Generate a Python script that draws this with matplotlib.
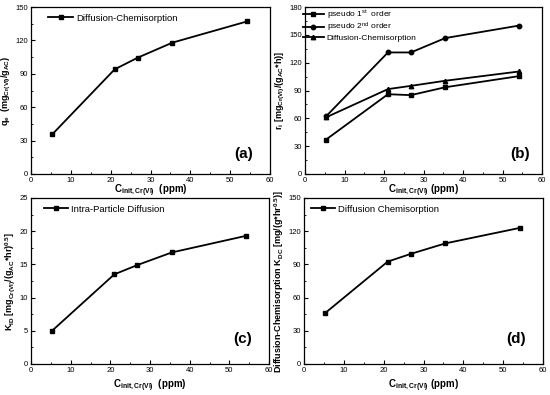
import matplotlib.pyplot as plt
from matplotlib.ticker import MultipleLocator

plt.rcParams['font.family'] = ['Liberation Sans', 'DejaVu Sans']
plt.rcParams['mathtext.default'] = 'regular'

# initial Cr(VI) concentration (ppm)
c_init = [5.3, 21.0, 26.8, 35.5, 54.2]

# (a) equilibrium uptake
qe_dc = [35.5, 94, 104.5, 118, 137]

# (b) initial rates
ri_pfo = [37, 86, 85, 93.5, 105.5]
ri_pso = [62, 131, 131, 146.5, 160]
ri_dc = [61, 91.5, 95, 100.5, 110.5]

# (c) intra-particle diffusion constant
kid = [5, 13.5, 14.9, 16.8, 19.3]

# (d) diffusion-chemisorption constant
kdc = [46, 92.5, 99.5, 109, 123]

fig = plt.figure(figsize=(5.5, 3.95), dpi=100)

ax_a = fig.add_axes([31/550, 1-174/395, 239/550, 167/395])
ax_b = fig.add_axes([305/550, 1-174/395, 237/550, 167/395])
ax_c = fig.add_axes([31/550, 1-364/395, 238/550, 166/395])
ax_d = fig.add_axes([304/550, 1-364/395, 239/550, 166/395])

lkw = dict(color='black', lw=1.3, markersize=3.2)

ax_a.plot(c_init, qe_dc, marker='s', label='Diffusion-Chemisorption', **lkw)
ax_b.plot(c_init, ri_pfo, marker='s', label='pseudo 1$^{st}$  order', **lkw)
ax_b.plot(c_init, ri_pso, marker='o', label='pseudo 2$^{nd}$ order', **lkw)
ax_b.plot(c_init, ri_dc, marker='^', label='Diffusion-Chemisorption', **lkw)
ax_c.plot(c_init, kid, marker='s', label='Intra-Particle Diffusion', **lkw)
ax_d.plot(c_init, kdc, marker='s', label='Diffusion Chemisorption', **lkw)

ylims = [(0, 150, 30), (0, 180, 30), (0, 25, 5), (0, 150, 30)]
ylabels = ['q$_e$  (mg$_{Cr(VI)}$/g$_{AC}$)',
           'r$_i$ [mg$_{Cr(VI)}$/(g$_{AC}$*h)]',
           'K$_{ID}$ [mg$_{Cr(VI)}$/(g$_{AC}$*hr)$^{0.5}$]',
           'Diffusion-Chemisorption K$_{DC}$ [mg/(g*hr$^{0.5}$)]']
letters = ['(a)', '(b)', '(c)', '(d)']
letter_pos = [(0.93, 0.12), (0.95, 0.12), (0.93, 0.15), (0.93, 0.15)]
xlabels = ['C$_{init,Cr(VI)}$  (ppm)', 'C$_{init,Cr(VI)}$ (ppm)',
           'C$_{init,Cr(VI)}$  (ppm)', 'C$_{init,Cr(VI)}$ (ppm)']
pads = [-0.5, -0.5, 3, 3]
leg_anchor = [(0.045, 1.0), (-0.035, 1.025), (0.025, 1.0), (0.0, 1.0)]
leg_fs = [6.8, 6.0, 6.8, 6.8]
leg_sp = [0.12, 0.0, 0.12, 0.12]

for i, ax in enumerate([ax_a, ax_b, ax_c, ax_d]):
    y0, y1, st = ylims[i]
    ax.set_xlim(0, 60)
    ax.set_ylim(y0, y1)
    ax.xaxis.set_major_locator(MultipleLocator(10))
    ax.xaxis.set_minor_locator(MultipleLocator(5))
    ax.yaxis.set_major_locator(MultipleLocator(st))
    ax.yaxis.set_minor_locator(MultipleLocator(st / 2))
    ax.tick_params(which='both', direction='in', labelsize=5.5, pad=2)
    ax.tick_params(which='major', length=3)
    ax.tick_params(which='minor', length=1.5)
    for s in ax.spines.values():
        s.set_linewidth(0.9)
    ax.set_xlabel(xlabels[i], fontsize=7, fontweight='bold', labelpad=pads[i])
    ax.set_ylabel(ylabels[i], fontsize=6.5, fontweight='bold', labelpad=2)
    ax.text(letter_pos[i][0], letter_pos[i][1], letters[i], transform=ax.transAxes,
            ha='right', va='center', fontsize=11, fontweight='bold')
    ax.legend(loc='upper left', bbox_to_anchor=leg_anchor[i], frameon=False,
              fontsize=leg_fs[i], handlelength=2.6, handletextpad=0.3,
              labelspacing=leg_sp[i], borderaxespad=0.3)

fig.savefig('out.png', dpi=100)
